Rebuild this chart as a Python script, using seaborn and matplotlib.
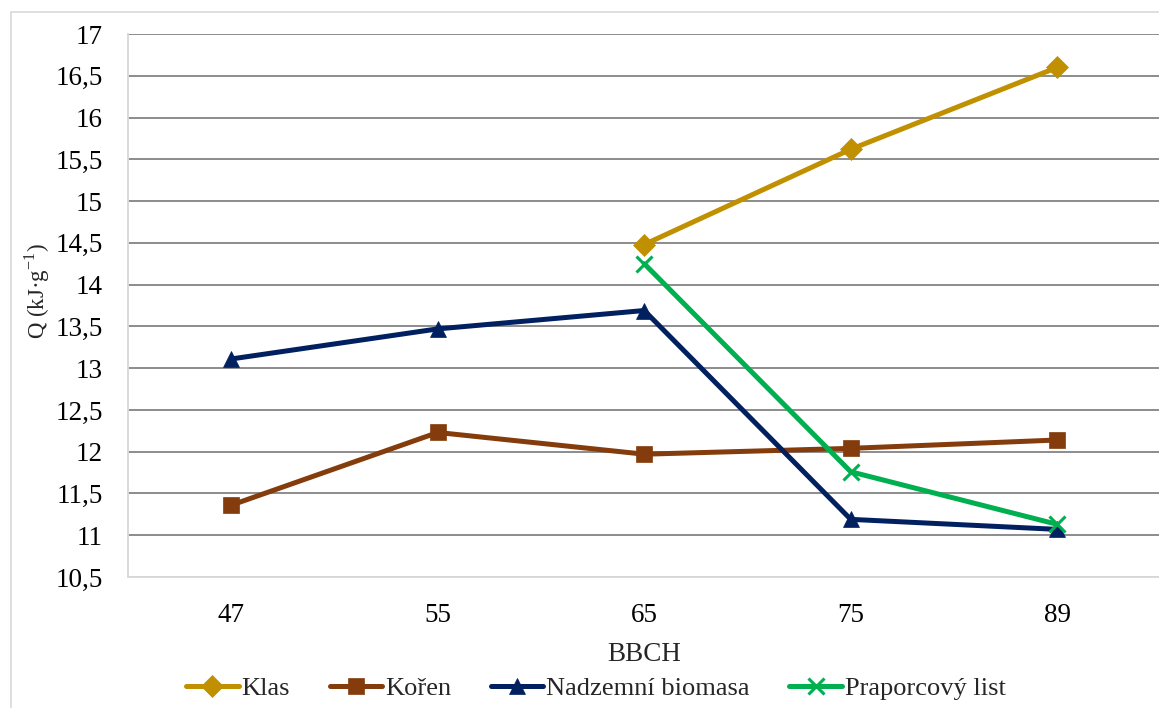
import numpy as np
import pandas as pd
import seaborn as sns
import matplotlib
matplotlib.use("Agg")
import matplotlib.pyplot as plt
from matplotlib.patches import Rectangle
from matplotlib.ticker import FuncFormatter, MultipleLocator

# Growth stages (BBCH) and heat of combustion values, kJ/g
bbch = ["47", "55", "65", "75", "89"]
klas = [np.nan, np.nan, 14.48, 15.62, 16.60]
koren = [11.36, 12.23, 11.97, 12.04, 12.14]
nadzemni = [13.11, 13.47, 13.69, 11.19, 11.07]
praporcovy = [np.nan, np.nan, 14.25, 11.76, 11.13]

series_names = ["Klas", "Kořen", "Nadzemní biomasa", "Praporcový list"]
series_values = [klas, koren, nadzemni, praporcovy]
colors = ["#C09000", "#843C0C", "#002060", "#00B050"]
markers = ["D", "s", "^", "x"]
msizes = [11, 11, 12, 12]

sns.set_theme(style="white")
plt.rcParams["font.family"] = ["Liberation Serif", "DejaVu Serif"]
plt.rcParams["mathtext.fontset"] = "custom"
plt.rcParams["mathtext.rm"] = "Liberation Serif"

fig = plt.figure(figsize=(11.59, 7.08), dpi=100)
fig.patches.append(Rectangle((11 / 1159, -0.1), 1.2, 1 - 12 / 708 + 0.1,
                             transform=fig.transFigure, fill=False,
                             edgecolor="#d9d9d9", linewidth=1.2))
ax = fig.add_axes([128 / 1159, 1 - 577 / 708, 1032.5 / 1159, (577 - 34) / 708])

pos = np.arange(len(bbch))
for name, vals, c, m, ms in zip(series_names, series_values, colors, markers, msizes):
    df = pd.DataFrame({"pos": pos, "val": vals}).dropna()
    mew = 2.2 if m == "x" else 0.5
    sns.lineplot(data=df, x="pos", y="val", ax=ax, color=c, linewidth=3.6,
                 marker=m, markersize=ms, markeredgecolor=c, markeredgewidth=mew,
                 label=name, zorder=3)

ax.set_xlim(-0.5, len(bbch) - 0.5)
ax.set_ylim(10.5, 17)
ax.set_xticks(pos)
ax.set_xticklabels(bbch)
ax.yaxis.set_major_locator(MultipleLocator(0.5))
ax.yaxis.set_major_formatter(FuncFormatter(lambda v, p: f"{v:g}".replace(".", ",")))
ax.grid(axis="y", color="#8c8c8c", linewidth=1.4)
ax.grid(axis="x", visible=False)
ax.set_axisbelow(True)
for side in ["top", "right"]:
    ax.spines[side].set_visible(False)
for side in ["left", "bottom"]:
    ax.spines[side].set_color("#d9d9d9")
    ax.spines[side].set_linewidth(1.4)
ax.tick_params(axis="both", length=0, labelsize=19.5, colors="black")
ax.tick_params(axis="y", pad=18)
ax.tick_params(axis="x", pad=19)

ax.set_xlabel("BBCH", fontsize=19.5, labelpad=10)
ax.set_ylabel(r"Q (kJ·g$^{\mathregular{-1}}$)", fontsize=16.5)
ax.yaxis.set_label_coords(52 / 1159, 1 - 291 / 708, transform=fig.transFigure)

ax.legend(loc="center", bbox_to_anchor=(0.514, 1 - 688 / 708),
          bbox_transform=fig.transFigure, ncol=4, frameon=False, fontsize=19,
          handlelength=2.0, handletextpad=0.1, columnspacing=1.5)

fig.savefig("out.png", dpi=100)
